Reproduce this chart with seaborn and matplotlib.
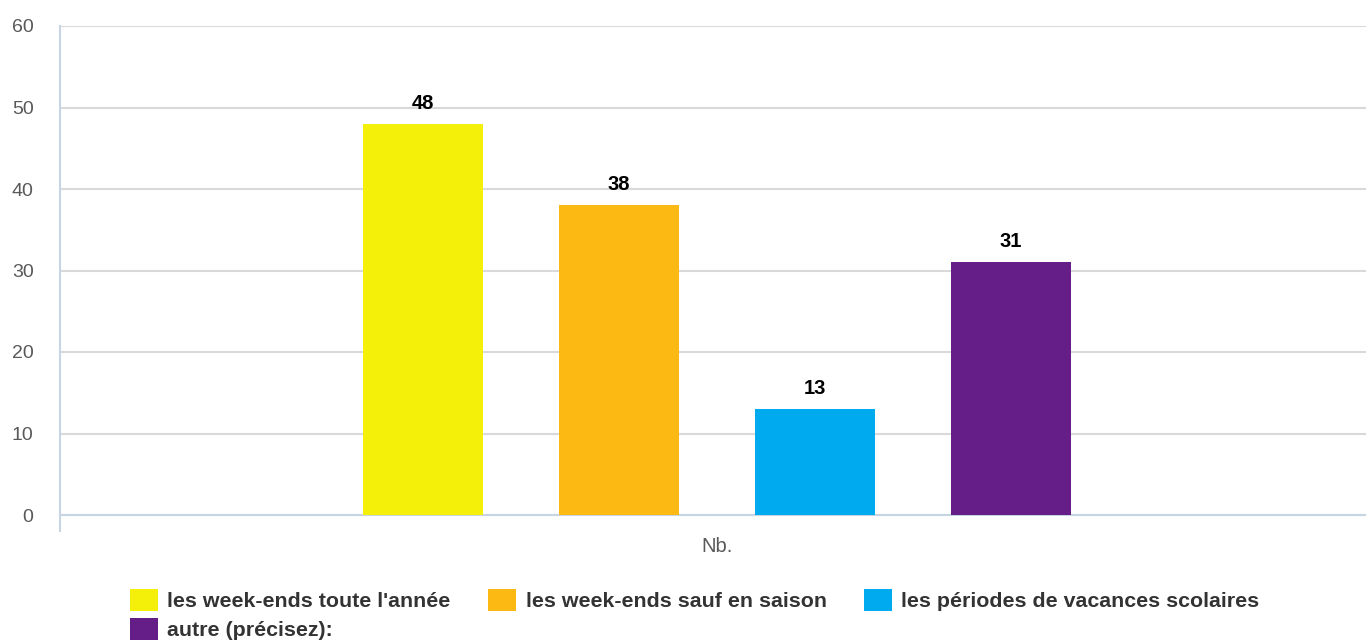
import pandas as pd
import matplotlib.pyplot as plt
import seaborn as sns

# Données
categorie = "Nb."
reponses = [
    "les week-ends toute l'année",
    "les week-ends sauf en saison",
    "les périodes de vacances scolaires",
    "autre (précisez):",
]
valeurs = [48, 38, 13, 31]
couleurs = ["#F5F00A", "#FDB913", "#00AAEE", "#651E87"]
yticks = [0, 10, 20, 30, 40, 50, 60]

df = pd.DataFrame({"cat": [categorie] * len(reponses), "rep": reponses, "val": valeurs})

sns.set_style("white")
plt.rcParams["font.family"] = ["Liberation Sans", "DejaVu Sans"]

fig = plt.figure(figsize=(13.66, 6.41), dpi=100)
ax = fig.add_axes([60 / 1366, 1 - 531 / 641, 1 - 60 / 1366, (531 - 26) / 641])

sns.barplot(data=df, x="cat", y="val", hue="rep", palette=couleurs,
            width=0.6, gap=0.39, ax=ax, saturation=1, linewidth=0, zorder=3)

# Étiquettes de valeur
for c in ax.containers:
    ax.bar_label(c, padding=8, fontsize=14.5, fontweight="bold", color="black")

ax.set_xlim(-0.5 - 0.003, 0.5 - 0.003)
ax.set_ylim(-60 * 16 / 489, 60)
ax.set_yticks(yticks)
ax.set_xlabel("")
ax.set_ylabel("")
ax.yaxis.grid(True, color="#d9d9d9", linewidth=1.5, zorder=0)
ax.axhline(0, color="#c6d4e3", linewidth=1.5, zorder=2)
ax.tick_params(axis="y", length=0, pad=19, labelsize=14, labelcolor="#595959")
ax.tick_params(axis="x", length=0, pad=4, labelsize=14.5, labelcolor="#595959")
for s in ["top", "right", "bottom"]:
    ax.spines[s].set_visible(False)
ax.spines["left"].set_color("#c6d4e3")
ax.spines["left"].set_linewidth(1.5)

# Légende (remplissage par ligne)
handles, labels = ax.get_legend_handles_labels()
ax.get_legend().remove()
ordre = [0, 3, 1, 2]
fig.legend([handles[i] for i in ordre], [labels[i] for i in ordre],
           loc="upper left", bbox_to_anchor=(130 / 1366, 1 - 589 / 641),
           ncol=3, frameon=False, borderpad=0, borderaxespad=0,
           prop={"size": 15.4, "weight": "bold"}, labelcolor="#333333",
           handlelength=1.3, handleheight=1.2, handletextpad=0.45,
           columnspacing=1.75, labelspacing=0.3)

fig.savefig("out.png", dpi=100)
